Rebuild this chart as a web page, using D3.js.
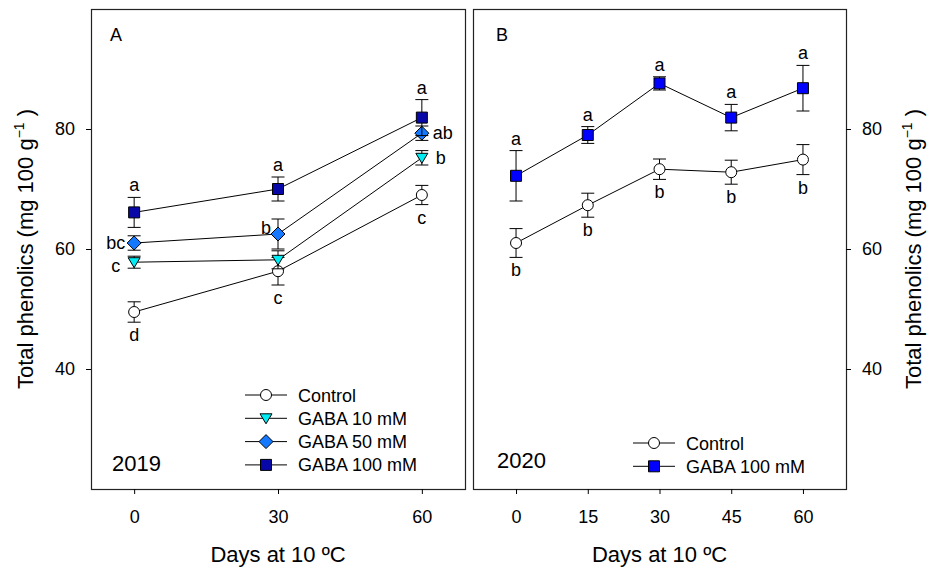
<!DOCTYPE html>
<html><head><meta charset="utf-8">
<script src="https://cdn.jsdelivr.net/npm/d3@7"></script>
<style>body{margin:0;background:#fff} text{font-family:"Liberation Sans",Arial,sans-serif;fill:#000}</style>
</head><body><svg id="c" width="929" height="570"></svg>
<script>
// ---------- DATA ----------
const daysA = [0, 30, 60];
const controlA = [49.5, 56.3, 69.0];
const controlAErr = [1.7, 2.3, 1.6];
const controlALetters = ["d", "c", "c"];
const gaba10A = [57.8, 58.2, 75.2];
const gaba10AErr = [1.0, 1.5, 1.2];
const gaba10ALetters = ["c", "", "b"];
const gaba50A = [61.0, 62.5, 79.3];
const gaba50AErr = [1.2, 2.5, 1.2];
const gaba50ALetters = ["bc", "b", "ab"];
const gaba100A = [66.1, 70.0, 81.9];
const gaba100AErr = [2.5, 2.0, 3.0];
const gaba100ALetters = ["a", "a", "a"];

const daysB = [0, 15, 30, 45, 60];
const controlB = [61.0, 67.3, 73.3, 72.8, 74.9];
const controlBErr = [2.4, 2.0, 1.7, 2.0, 2.5];
const controlBLetters = ["b", "b", "b", "b", "b"];
const gaba100B = [72.2, 79.0, 87.6, 81.9, 86.8];
const gaba100BErr = [4.2, 1.4, 1.1, 2.2, 3.8];
const gaba100BLetters = ["a", "a", "a", "a", "a"];

const ticksY = [40, 60, 80];
const ticksXA = [0, 30, 60];
const ticksXB = [0, 15, 30, 45, 60];
const legendA = ["Control", "GABA 10 mM", "GABA 50 mM", "GABA 100 mM"];
const legendB = ["Control", "GABA 100 mM"];
const yTitle = "Total phenolics (mg 100 g";
const xTitle = "Days at 10 ºC";

// ---------- SETUP ----------
const svg = d3.select("#c");
const y = d3.scaleLinear().domain([20, 100]).range([489, 9]);
const xA = d3.scaleLinear().domain([-9, 69]).range([91, 465]);
const xB = d3.scaleLinear().domain([-9, 69]).range([473, 846]);
const FS = 18;
const TFS = 22;

const shapes = {
  circle: "M5.5,0A5.5,5.5,0,1,1,-5.5,0A5.5,5.5,0,1,1,5.5,0Z",
  square: "M-5.5,-5.5H5.5V5.5H-5.5Z",
  diamond: "M0,-7L7,0L0,7L-7,0Z",
  triDown: "M-6,-4.5L6,-4.5L0,5.5Z"
};

function frame(x) {
  svg.append("rect")
    .attr("x", Math.round(x.range()[0]) + 0.5).attr("y", Math.round(y(100)) + 0.5)
    .attr("width", Math.round(x.range()[1] - x.range()[0]))
    .attr("height", Math.round(y(20) - y(100)))
    .attr("fill", "none").attr("stroke", "#222").attr("stroke-width", 1.2);
}

function styleAxis(g) {
  g.select(".domain").remove();
  g.selectAll("line").attr("stroke", "#000");
  g.selectAll("text").attr("font-size", FS).attr("font-family", "Liberation Sans, Arial, sans-serif");
}

function series(x, days, vals, errs, letters, shape, fill, placements) {
  const g = svg.append("g");
  const line = d3.line().x((d, i) => x(days[i])).y(d => y(d));
  g.append("path").datum(vals).attr("d", line).attr("fill", "none").attr("stroke", "#000").attr("stroke-width", 1);
  vals.forEach((v, i) => {
    const cx = x(days[i]);
    const top = y(v + errs[i]), bot = y(v - errs[i]);
    g.append("line").attr("x1", cx).attr("x2", cx).attr("y1", top).attr("y2", bot).attr("stroke", "#000");
    [top, bot].forEach(yy => g.append("line").attr("x1", cx - 6.5).attr("x2", cx + 6.5).attr("y1", yy).attr("y2", yy).attr("stroke", "#000"));
  });
  vals.forEach((v, i) => {
    g.append("path").attr("d", shapes[shape]).attr("transform", `translate(${x(days[i])},${y(v)})`)
      .attr("fill", fill).attr("stroke", "#000").attr("stroke-width", 1);
  });
  vals.forEach((v, i) => {
    if (!letters[i]) return;
    const cx = x(days[i]), cy = y(v);
    const top = y(v + errs[i]), bot = y(v - errs[i]);
    const p = placements[i];
    let tx = cx, ty = cy, anchor = "middle";
    if (p === "above") { ty = top - 6; }
    else if (p === "below") { ty = bot + 19; }
    else if (p === "left") { tx = cx - 9; ty = cy + 6; anchor = "end"; }
    else if (p === "left2") { tx = cx - 14; ty = cy + 10; anchor = "end"; }
    else if (p === "upleft") { tx = cx - 7; ty = cy; anchor = "end"; }
    else if (p === "right") { tx = cx + 11; ty = cy + 6; anchor = "start"; }
    else if (p === "right2") { tx = cx + 14; ty = cy + 6; anchor = "start"; }
    g.append("text").attr("x", tx).attr("y", ty).attr("text-anchor", anchor).attr("font-size", FS).text(letters[i]);
  });
}

function legend(items, shapesArr, fills, lx, ly0, dy) {
  items.forEach((t, i) => {
    const yy = ly0 + i * dy;
    svg.append("line").attr("x1", lx).attr("x2", lx + 42).attr("y1", yy).attr("y2", yy).attr("stroke", "#000");
    svg.append("path").attr("d", shapes[shapesArr[i]]).attr("transform", `translate(${lx + 21},${yy})`)
      .attr("fill", fills[i]).attr("stroke", "#000");
    svg.append("text").attr("x", lx + 53).attr("y", yy + 6.5).attr("font-size", FS).text(t);
  });
}

function yTitleText(xpos) {
  const t = svg.append("text").attr("transform", `translate(${xpos},${y(60)}) rotate(-90)`)
    .attr("text-anchor", "middle").attr("font-size", TFS);
  t.append("tspan").text(yTitle);
  t.append("tspan").attr("font-size", 14).attr("dy", -9).text("−1");
  t.append("tspan").attr("dy", 9).text(" )");
}

// ---------- PANEL A ----------
frame(xA);
svg.append("g").attr("transform", `translate(${xA.range()[0]},0)`)
  .call(d3.axisLeft(y).tickValues(ticksY).tickSize(5).tickPadding(11)).call(styleAxis);
svg.append("g").attr("transform", `translate(0,${y(20)})`)
  .call(d3.axisBottom(xA).tickValues(ticksXA).tickSize(5).tickPadding(16)).call(styleAxis);

series(xA, daysA, controlA, controlAErr, controlALetters, "circle", "#fff", ["below", "below", "below"]);
series(xA, daysA, gaba10A, gaba10AErr, gaba10ALetters, "triDown", "#00EBF2", ["left2", "", "right2"]);
series(xA, daysA, gaba50A, gaba50AErr, gaba50ALetters, "diamond", "#1479FF", ["left", "upleft", "right"]);
series(xA, daysA, gaba100A, gaba100AErr, gaba100ALetters, "square", "#0808A8", ["above", "above", "above"]);

legend(legendA, ["circle", "triDown", "diamond", "square"], ["#fff", "#00EBF2", "#1479FF", "#0808A8"], 245, 395, 23.3);
svg.append("text").attr("x", 110).attr("y", 41).attr("font-size", FS).text("A");
svg.append("text").attr("x", 112).attr("y", 471).attr("font-size", 22).text("2019");
svg.append("text").attr("x", xA(30)).attr("y", 562).attr("text-anchor", "middle").attr("font-size", TFS).text(xTitle);
yTitleText(33);

// ---------- PANEL B ----------
frame(xB);
svg.append("g").attr("transform", `translate(${xB.range()[1]},0)`)
  .call(d3.axisRight(y).tickValues(ticksY).tickSize(5).tickPadding(11)).call(styleAxis);
svg.append("g").attr("transform", `translate(0,${y(20)})`)
  .call(d3.axisBottom(xB).tickValues(ticksXB).tickSize(5).tickPadding(16)).call(styleAxis);

series(xB, daysB, controlB, controlBErr, controlBLetters, "circle", "#fff", ["below", "below", "below", "below", "below"]);
series(xB, daysB, gaba100B, gaba100BErr, gaba100BLetters, "square", "#0000FF", ["above", "above", "above", "above", "above"]);

legend(legendB, ["circle", "square"], ["#fff", "#0000FF"], 633, 443, 23.3);
svg.append("text").attr("x", 496).attr("y", 41).attr("font-size", FS).text("B");
svg.append("text").attr("x", 497).attr("y", 468).attr("font-size", 22).text("2020");
svg.append("text").attr("x", xB(30)).attr("y", 562).attr("text-anchor", "middle").attr("font-size", TFS).text(xTitle);
yTitleText(921);
</script></body></html>
